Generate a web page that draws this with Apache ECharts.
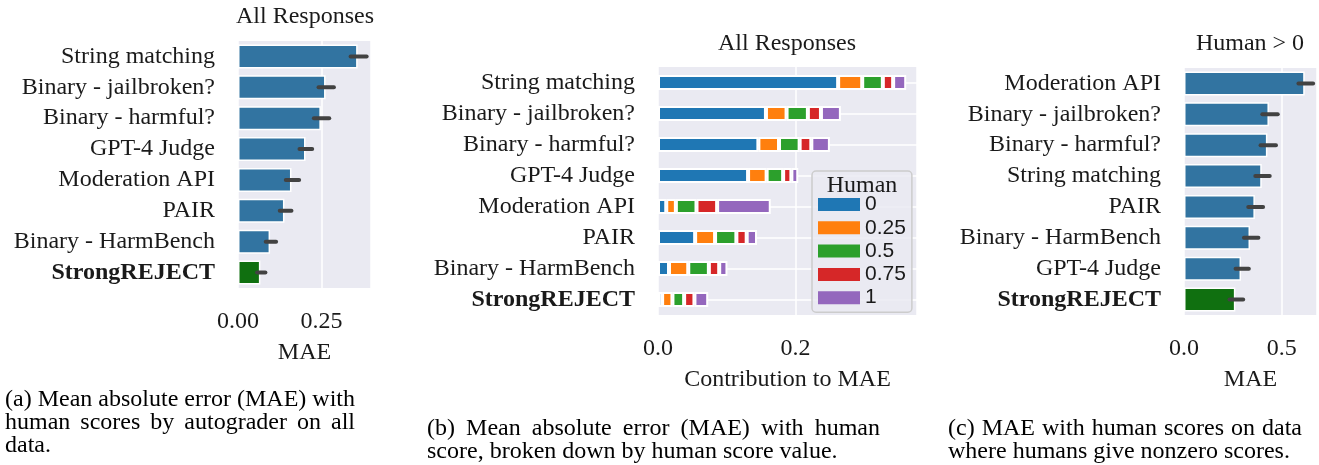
<!DOCTYPE html>
<html>
<head>
<meta charset="utf-8">
<script src="https://cdn.jsdelivr.net/npm/echarts@6/dist/echarts.min.js"></script>
<style>
  html, body { margin: 0; padding: 0; background: #fff; }
  #main { width: 1319px; height: 465px; }
</style>
</head>
<body>
<div id="main"></div>
<script>
// panel (a): all responses
const catsA = ['String matching', 'Binary - jailbroken?', 'Binary - harmful?', 'GPT-4 Judge',
  'Moderation API', 'PAIR', 'Binary - HarmBench', 'StrongREJECT']
const maeA = [0.358, 0.262, 0.248, 0.202, 0.160, 0.139, 0.096, 0.067]
const ciLowA = [0.337, 0.241, 0.227, 0.184, 0.143, 0.125, 0.083, 0.057]
const ciHighA = [0.385, 0.287, 0.273, 0.222, 0.183, 0.160, 0.114, 0.082]

// panel (b): contribution to MAE per human score value
const humanLevels = ['0', '0.25', '0.5', '0.75', '1']
const human0 = [0.262, 0.157, 0.146, 0.131, 0.012, 0.054, 0.016, 0.006]
const human025 = [0.035, 0.030, 0.030, 0.027, 0.014, 0.029, 0.028, 0.015]
const human05 = [0.030, 0.031, 0.030, 0.024, 0.030, 0.031, 0.030, 0.017]
const human075 = [0.015, 0.019, 0.017, 0.012, 0.030, 0.015, 0.015, 0.015]
const human1 = [0.019, 0.029, 0.027, 0.010, 0.078, 0.015, 0.012, 0.020]

// panel (c): human > 0
const catsC = ['Moderation API', 'Binary - jailbroken?', 'Binary - harmful?', 'String matching',
  'PAIR', 'Binary - HarmBench', 'GPT-4 Judge', 'StrongREJECT']
const maeC = [0.618, 0.435, 0.427, 0.398, 0.363, 0.338, 0.292, 0.263]
const ciLowC = [0.586, 0.401, 0.392, 0.365, 0.329, 0.307, 0.264, 0.233]
const ciHighC = [0.661, 0.480, 0.471, 0.439, 0.405, 0.381, 0.332, 0.303]

const serif = 'Liberation Serif'
const fs = 24
const textColor = '#1a1a1a'
const blue = '#3274a1'
const green = '#107010'
const humanColors = ['#1f77b4', '#ff7f0e', '#2ca02c', '#d62728', '#9467bd']

function catAxis(idx, cats) {
  return {
    type: 'category',
    gridIndex: idx,
    data: cats,
    inverse: true,
    axisLine: { show: false },
    axisTick: { show: false },
    splitLine: { show: false },
    axisLabel: {
      interval: 0,
      hideOverlap: false,
      margin: 23,
      fontFamily: serif,
      fontSize: fs,
      color: textColor,
      formatter: function(v) {
        return v === 'StrongREJECT' ? '{b|' + v + '}' : v
      },
      rich: {
        b: { fontFamily: serif, fontSize: fs, fontWeight: 'bold', color: textColor }
      }
    }
  }
}

function valAxis(idx, max, interval, digits, name) {
  return {
    type: 'value',
    gridIndex: idx,
    min: 0,
    max: max,
    interval: interval,
    name: name,
    nameLocation: 'middle',
    nameGap: 53,
    nameTextStyle: { fontFamily: serif, fontSize: fs, color: textColor },
    axisLine: { show: false },
    axisTick: { show: false },
    splitLine: { show: true, lineStyle: { color: '#fff', width: 1.5 } },
    axisLabel: {
      margin: 22,
      showMaxLabel: false,
      fontFamily: serif,
      fontSize: fs,
      color: textColor,
      formatter: function(v) { return v.toFixed(digits) }
    }
  }
}

function barData(vals, cats) {
  return vals.map(function(v, i) {
    return cats[i] === 'StrongREJECT' ? { value: v, itemStyle: { color: green } } : v
  })
}

function errSeries(idx, lows, highs) {
  return {
    type: 'custom',
    xAxisIndex: idx,
    yAxisIndex: idx,
    z: 5,
    silent: true,
    encode: { x: [1, 2], y: 0 },
    data: lows.map(function(l, i) { return [i, l, highs[i]] }),
    renderItem: function(params, api) {
      const p1 = api.coord([api.value(1), api.value(0)])
      const p2 = api.coord([api.value(2), api.value(0)])
      return {
        type: 'line',
        shape: { x1: p1[0], y1: p1[1], x2: p2[0], y2: p2[1] },
        style: { stroke: '#424242', lineWidth: 4, lineCap: 'round' }
      }
    }
  }
}

const seriesB = [human0, human025, human05, human075, human1].map(function(vals, i) {
  return {
    type: 'bar',
    name: humanLevels[i],
    xAxisIndex: 1,
    yAxisIndex: 1,
    stack: 'human',
    barWidth: 15,
    z: 3,
    itemStyle: { color: humanColors[i], borderColor: '#fff', borderWidth: 2 },
    data: vals
  }
})

// caption lines; w = justified width (null for last line of paragraph)
const captions = [
  { x: 5, y: 400, w: 350, t: '(a) Mean absolute error (MAE) with' },
  { x: 5, y: 423, w: 350, t: 'human scores by autograder on all' },
  { x: 5, y: 446, w: null, t: 'data.' },
  { x: 427, y: 429, w: 453, t: '(b) Mean absolute error (MAE) with human' },
  { x: 427, y: 452, w: null, t: 'score, broken down by human score value.' },
  { x: 948, y: 429, w: 354, t: '(c) MAE with human scores on data' },
  { x: 948, y: 452, w: null, t: 'where humans give nonzero scores.' }
]
const titles = [
  { x: 305, y: 17, t: 'All Responses' },
  { x: 787, y: 44, t: 'All Responses' },
  { x: 1250, y: 44, t: 'Human > 0' },
  { x: 862, y: 186, t: 'Human' }
]

const ctx = document.createElement('canvas').getContext('2d')
ctx.font = fs + 'px "' + serif + '"'

const graphics = []
titles.forEach(function(d) {
  graphics.push({
    type: 'text', x: d.x, y: d.y, z: 100,
    style: { text: d.t, fontFamily: serif, fontSize: fs, fill: textColor, align: 'center', verticalAlign: 'middle' }
  })
})
captions.forEach(function(d) {
  const words = d.w ? d.t.split(' ') : [d.t]
  let gap = 0
  if (d.w && words.length > 1) {
    let total = 0
    words.forEach(function(w) { total += ctx.measureText(w).width })
    gap = (d.w - total) / (words.length - 1)
  }
  let x = d.x
  words.forEach(function(w) {
    graphics.push({
      type: 'text', x: x, y: d.y, z: 100,
      style: { text: w, fontFamily: serif, fontSize: fs, fill: '#000', align: 'left', verticalAlign: 'middle' }
    })
    x += ctx.measureText(w).width + gap
  })
})

const option = {
  animation: false,
  backgroundColor: '#fff',
  grid: [
    { left: 238, top: 41, width: 133, height: 247, show: true, backgroundColor: '#eaeaf2', borderWidth: 0 },
    { left: 658, top: 67, width: 259, height: 248, show: true, backgroundColor: '#eaeaf2', borderWidth: 0 },
    { left: 1184, top: 68, width: 133, height: 247, show: true, backgroundColor: '#eaeaf2', borderWidth: 0 }
  ],
  xAxis: [
    valAxis(0, 0.398, 0.25, 2, 'MAE'),
    valAxis(1, 0.3767, 0.2, 1, 'Contribution to MAE'),
    valAxis(2, 0.681, 0.5, 1, 'MAE')
  ],
  yAxis: [catAxis(0, catsA), catAxis(1, catsA), catAxis(2, catsC)],
  legend: {
    data: humanLevels,
    orient: 'vertical',
    left: 812,
    top: 171,
    padding: [23, 6, 4, 6],
    icon: 'rect',
    itemWidth: 42,
    itemHeight: 13,
    itemGap: 2.3,
    itemStyle: { borderWidth: 0 },
    backgroundColor: 'rgba(234,234,242,0.85)',
    borderColor: '#cccccc',
    borderWidth: 1.5,
    borderRadius: 4,
    textStyle: { fontFamily: 'Liberation Sans', fontSize: 21, color: textColor }
  },
  graphic: graphics,
  series: [
    {
      type: 'bar', xAxisIndex: 0, yAxisIndex: 0, barWidth: 24, z: 3,
      itemStyle: { color: blue, borderColor: '#fff', borderWidth: 1.5 },
      data: barData(maeA, catsA)
    },
    errSeries(0, ciLowA, ciHighA),
    {
      // horizontal white grid lines through the category centres of panel (b)
      type: 'line', xAxisIndex: 1, yAxisIndex: 1, z: 1, data: [],
      markLine: {
        z: 1,
        silent: true,
        symbol: ['none', 'none'],
        label: { show: false },
        lineStyle: { color: '#fff', width: 1.5, type: 'solid' },
        data: catsA.map(function(c) { return { yAxis: c } })
      }
    }
  ].concat(seriesB).concat([
    {
      type: 'bar', xAxisIndex: 2, yAxisIndex: 2, barWidth: 24, z: 3,
      itemStyle: { color: blue, borderColor: '#fff', borderWidth: 1.5 },
      data: barData(maeC, catsC)
    },
    errSeries(2, ciLowC, ciHighC)
  ])
}

const myChart = echarts.init(document.getElementById('main'))
myChart.setOption(option)
</script>
</body>
</html>
